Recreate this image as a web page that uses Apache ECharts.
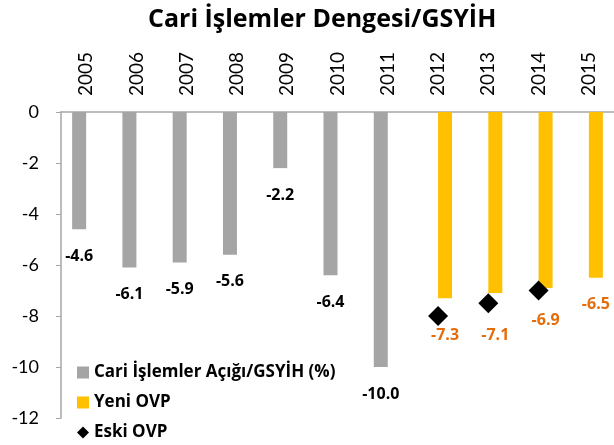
<!DOCTYPE html>
<html><head><meta charset="utf-8">
<script src="https://cdn.jsdelivr.net/npm/echarts@6/dist/echarts.min.js"></script>
<style>html,body{margin:0;padding:0;background:#fff}#c{width:614px;height:445px}</style>
</head><body><div id="c"></div>
<script>
var years = ['2005','2006','2007','2008','2009','2010','2011','2012','2013','2014','2015'];
var cariAcik = [-4.6,-6.1,-5.9,-5.6,-2.2,-6.4,-10.0,null,null,null,null];
var yeniOVP = [null,null,null,null,null,null,null,-7.3,-7.1,-6.9,-6.5];
var eskiOVP = [null,null,null,null,null,null,null,-8.0,-7.5,-7.0,null];
var yTicks = [0,-2,-4,-6,-8,-10,-12];

var FONT = 'Lato';
var BFONT = 'Open Sans';
var chart = echarts.init(document.getElementById('c'));
var yeniDist = [19,19,19,19,19,19,19,29,34,24,19];
function fmt(p){return p.value==null?'':Number(p.value).toFixed(1);}
chart.setOption({
  animation:false,
  textStyle:{fontFamily:FONT},
  title:{text:'Cari İşlemler Dengesi/GSYİH',left:143,top:2,
    textStyle:{fontFamily:BFONT,fontSize:25,fontWeight:'bold',color:'#000'}},
  grid:{left:61,right:0,top:112,bottom:27,containLabel:false},
  legend:{orient:'vertical',left:77,top:364,padding:0,itemGap:13,itemWidth:12,itemHeight:12,height:90,
    textStyle:{fontFamily:BFONT,fontSize:17,fontWeight:'bold',color:'#000'},
    data:[{name:'Cari İşlemler Açığı/GSYİH (%)',icon:'rect'},{name:'Yeni OVP',icon:'rect'},{name:'Eski OVP',icon:'diamond'}]},
  xAxis:{type:'category',data:years,position:'top',
    axisLine:{lineStyle:{color:'#A6A6A6',width:1.5}},
    axisTick:{inside:true,length:5,lineStyle:{color:'#A6A6A6'}},
    axisLabel:{rotate:90,fontSize:19,color:'#000',margin:16,fontFamily:FONT}},
  yAxis:{type:'value',min:-12,max:0,interval:2,
    axisLine:{show:true,lineStyle:{color:'#A6A6A6',width:1.5}},
    axisTick:{show:true,length:5,lineStyle:{color:'#A6A6A6'}},
    splitLine:{show:false},
    axisLabel:{fontSize:18,color:'#000',margin:22,fontFamily:FONT}},
  series:[
    {name:'Cari İşlemler Açığı/GSYİH (%)',type:'bar',data:cariAcik,barWidth:14,barGap:'0%',
      itemStyle:{color:'#A5A5A5'},
      label:{show:true,position:'bottom',distance:19,fontSize:16,fontWeight:'bold',color:'#000',fontFamily:BFONT,formatter:fmt}},
    {name:'Yeni OVP',type:'bar',data:yeniOVP.map(function(v,i){
        return {value:v,label:{distance:yeniDist[i]}};}),barWidth:14,
      itemStyle:{color:'#FFC000'},
      label:{show:true,position:'bottom',fontSize:16,fontWeight:'bold',color:'#E46C0A',fontFamily:BFONT,formatter:fmt}},
    {name:'Eski OVP',type:'scatter',data:eskiOVP,symbol:'diamond',symbolSize:[20,20],
      itemStyle:{color:'#000',opacity:1},z:5}
  ]
});
</script></body></html>
